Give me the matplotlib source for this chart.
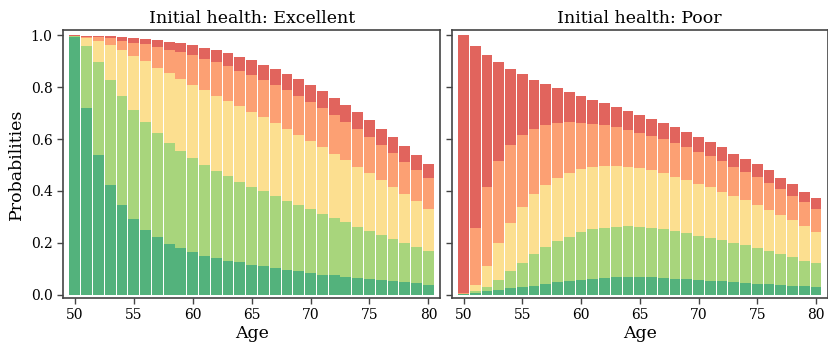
import numpy as np
import matplotlib
matplotlib.use("Agg")
import matplotlib.pyplot as plt

plt.rcParams['font.family'] = ['DejaVu Serif']

ages = np.arange(50, 81)
states = ['Excellent', 'Very good', 'Good', 'Fair', 'Poor']
colors = ['#199850', '#8bc850', '#fcd56b', '#fb8044', '#d73027']

# cumulative share (top edge of each band), starting in excellent health
exc_excellent = [0.995, 0.720, 0.539, 0.423, 0.344, 0.290, 0.249, 0.221, 0.195, 0.180,
                 0.165, 0.150, 0.141, 0.129, 0.125, 0.116, 0.109, 0.103, 0.096, 0.090,
                 0.082, 0.077, 0.075, 0.068, 0.064, 0.062, 0.057, 0.051, 0.048, 0.044, 0.037]
exc_verygood = [0.996, 0.960, 0.897, 0.828, 0.766, 0.711, 0.665, 0.622, 0.584, 0.553,
                0.527, 0.500, 0.476, 0.456, 0.436, 0.414, 0.398, 0.379, 0.360, 0.344,
                0.329, 0.310, 0.294, 0.279, 0.260, 0.244, 0.229, 0.213, 0.198, 0.183, 0.167]
exc_good = [0.997, 0.988, 0.977, 0.961, 0.943, 0.920, 0.901, 0.873, 0.853, 0.832,
            0.808, 0.789, 0.766, 0.747, 0.728, 0.704, 0.684, 0.662, 0.639, 0.616,
            0.591, 0.568, 0.542, 0.518, 0.492, 0.469, 0.441, 0.414, 0.387, 0.360, 0.332]
exc_fair = [0.998, 0.993, 0.992, 0.988, 0.980, 0.972, 0.966, 0.956, 0.945, 0.934,
            0.923, 0.909, 0.897, 0.882, 0.862, 0.847, 0.828, 0.808, 0.789, 0.766,
            0.744, 0.719, 0.692, 0.665, 0.638, 0.609, 0.578, 0.545, 0.512, 0.481, 0.449]
exc_poor = [1.000, 0.997, 0.997, 0.996, 0.992, 0.988, 0.985, 0.981, 0.973, 0.969,
            0.961, 0.951, 0.942, 0.931, 0.915, 0.904, 0.884, 0.869, 0.850, 0.830,
            0.807, 0.784, 0.757, 0.730, 0.703, 0.672, 0.638, 0.607, 0.572, 0.537, 0.503]

# cumulative share (top edge of each band), starting in poor health
poor_excellent = [0.001, 0.006, 0.013, 0.018, 0.024, 0.028, 0.035, 0.042, 0.049, 0.054,
                  0.058, 0.060, 0.063, 0.067, 0.067, 0.067, 0.067, 0.064, 0.062, 0.060,
                  0.058, 0.054, 0.051, 0.049, 0.045, 0.042, 0.040, 0.037, 0.035, 0.032, 0.030]
poor_verygood = [0.002, 0.013, 0.031, 0.058, 0.090, 0.121, 0.156, 0.183, 0.206, 0.224,
                 0.240, 0.252, 0.257, 0.261, 0.263, 0.260, 0.257, 0.252, 0.246, 0.237,
                 0.228, 0.220, 0.210, 0.201, 0.190, 0.179, 0.167, 0.156, 0.144, 0.131, 0.121]
poor_good = [0.003, 0.036, 0.112, 0.198, 0.275, 0.337, 0.387, 0.423, 0.451, 0.469,
             0.483, 0.491, 0.496, 0.496, 0.492, 0.488, 0.479, 0.468, 0.455, 0.442,
             0.427, 0.414, 0.395, 0.379, 0.364, 0.344, 0.325, 0.306, 0.287, 0.266, 0.243]
poor_fair = [0.005, 0.258, 0.416, 0.514, 0.577, 0.617, 0.639, 0.654, 0.662, 0.665,
             0.662, 0.657, 0.653, 0.645, 0.635, 0.622, 0.611, 0.599, 0.584, 0.569,
             0.549, 0.533, 0.514, 0.491, 0.473, 0.454, 0.431, 0.406, 0.379, 0.357, 0.332]
poor_poor = [1.000, 0.958, 0.923, 0.897, 0.869, 0.850, 0.826, 0.811, 0.796, 0.780,
             0.765, 0.749, 0.738, 0.722, 0.707, 0.692, 0.677, 0.662, 0.647, 0.627,
             0.607, 0.587, 0.568, 0.544, 0.522, 0.503, 0.479, 0.451, 0.425, 0.397, 0.374]

panels = [
    ('Initial health: Excellent',
     [exc_excellent, exc_verygood, exc_good, exc_fair, exc_poor]),
    ('Initial health: Poor',
     [poor_excellent, poor_verygood, poor_good, poor_fair, poor_poor]),
]

fig = plt.figure(figsize=(8.29, 3.47), dpi=100)
ax1 = fig.add_axes([0.076, 0.141, 0.455, 0.772])
ax2 = fig.add_axes([0.545, 0.141, 0.4535, 0.772], sharey=ax1)

for ax, (title, tops) in zip([ax1, ax2], panels):
    bottom = np.zeros(len(ages))
    for state, top, c in zip(states, tops, colors):
        top = np.asarray(top)
        ax.bar(ages, top - bottom, bottom=bottom, width=0.92, color=c,
               alpha=0.75, linewidth=0, label=state)
        bottom = top
    ax.set_title(title, fontsize=12.5, pad=5)
    ax.set_xlabel('Age', fontsize=12.5, labelpad=2)
    ax.set_xlim(49, 81)
    ax.set_xticks(np.arange(50, 81, 5))
    ax.tick_params(labelsize=10, length=4, width=1, color='#444444')
    for sp in ax.spines.values():
        sp.set_color('#444444')
        sp.set_linewidth(1.2)

ax1.set_ylim(-0.013, 1.02)
ax1.set_yticks(np.arange(0, 1.01, 0.2))
ax1.set_ylabel('Probabilities', fontsize=12.5, labelpad=4)
ax2.tick_params(labelleft=False)

fig.savefig('out.png', dpi=100)
